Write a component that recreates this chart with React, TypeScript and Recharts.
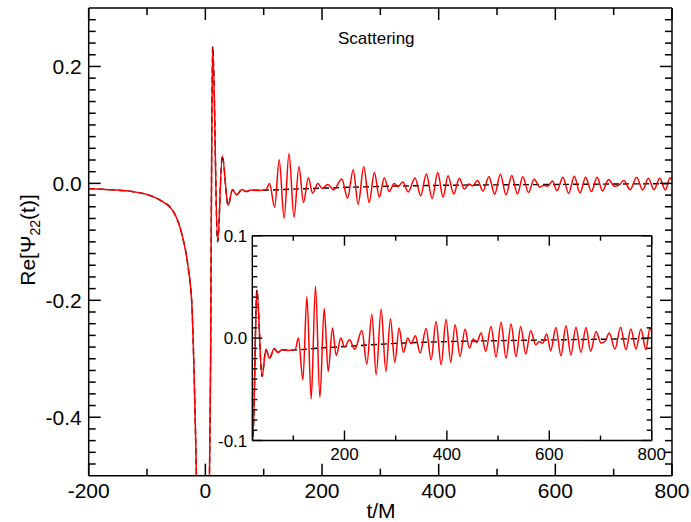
import React from 'react';
import { LineChart, Line, XAxis, YAxis, CartesianGrid } from 'recharts';

// numerical waveform (red)
const tRed = [
  -200, -160, -123, -100, -77, -55, -40, -30, -23, -20, -17, -15, -10, -4, 2, 7, 9, 10, 11, 12.6,
  21, 29, 39, 46.6, 53.6, 62.8, 70, 78, 90, 104, 110, 118.8, 126.6, 135, 143.4, 152, 160.4, 168.2,
  176.6, 183.8, 193, 200, 209.8, 220, 234, 243.7, 253.5, 261.9, 271.6, 280.8, 289.8, 298.3, 306.7,
  315.1, 323.7, 330.1, 338.5, 347.7, 359.4, 369.2, 378.9, 388.7, 398.4, 407.5, 416, 425.8, 435.5,
  443.9, 451.7, 458.3, 466.7, 475.9, 486.2, 496, 505.8, 515.5, 525.3, 535, 544.2, 554, 563.7, 573.5,
  580.5, 587, 595, 602.7, 613, 622.8, 632.5, 642.3, 652, 661.8, 671.6, 680.8, 691.2, 701, 709, 717.2,
  728.3, 739.3, 749.7, 759.4, 769.2, 779, 788.7, 796.5, 800,
];
const psiRed = [
  -0.009, -0.011, -0.0144, -0.019, -0.029, -0.048, -0.088, -0.14, -0.21, -0.3, -0.42, -0.52, -0.75,
  -0.85, -0.72, -0.5, -0.3, -0.1, 0.08, 0.234,
  -0.1, 0.047, -0.0375, -0.011, -0.0195, -0.0104, -0.014, -0.0114, -0.012, -0.011, 0.0, -0.0407,
  0.0406, -0.0595, 0.051, -0.058, 0.029, -0.0326, 0.0098, -0.017, 0.0, -0.0088, -0.0017, -0.011,
  0.0074, -0.0254, 0.0234, -0.0358, 0.0283, -0.0326, 0.0188, -0.0238, 0.0098, -0.014, 0.0, -0.0056,
  0.0022, -0.0146, 0.0094, -0.0212, 0.0162, -0.026, 0.0185, -0.0238, 0.013, -0.018, 0.009, -0.0098,
  -0.001, -0.0043, 0.0049, -0.013, 0.0113, -0.0185, 0.0156, -0.0195, 0.0137, -0.018, 0.0113, -0.0156,
  0.0071, -0.0065, -0.0033, -0.005, 0.0039, -0.0124, 0.0103, -0.0173, 0.012, -0.0163, 0.0107, -0.014,
  0.0103, -0.013, 0.0065, -0.0049, -0.003, 0.0049, -0.0107, 0.0107, -0.0114, 0.0088, -0.0107, 0.0088,
  -0.0114, 0.0098, 0.006,
];

// comparison waveform (black dashed)
const tDash = [
  -200, -160, -123, -100, -77, -55, -40, -30, -23, -20, -17, -15, -10, -4, 2, 7, 9, 10, 11, 12.6,
  21, 29, 39, 46.6, 53.6, 62.8, 70, 78, 90, 150, 200, 300, 400, 500, 600, 700, 800,
];
const psiDash = [
  -0.009, -0.011, -0.0144, -0.019, -0.029, -0.048, -0.088, -0.14, -0.21, -0.3, -0.42, -0.52, -0.75,
  -0.85, -0.72, -0.5, -0.3, -0.1, 0.08, 0.234,
  -0.1, 0.047, -0.0375, -0.011, -0.0195, -0.0104, -0.014, -0.0114, -0.0118, -0.0098, -0.0082,
  -0.0052, -0.0034, -0.0025, -0.0018, -0.0011, -0.0004,
];

const mainXTicks = [-200, 0, 200, 400, 600, 800];
const mainXMinor = [-100, 100, 300, 500, 700];
const mainYTicks = [-0.4, -0.2, 0.0, 0.2];
const mainYMinor = [
  -0.48, -0.46, -0.44, -0.42, -0.38, -0.36, -0.34, -0.32, -0.3, -0.28, -0.26, -0.24, -0.22, -0.18,
  -0.16, -0.14, -0.12, -0.1, -0.08, -0.06, -0.04, -0.02, 0.02, 0.04, 0.06, 0.08, 0.1, 0.12, 0.14,
  0.16, 0.18, 0.22, 0.24, 0.26, 0.28,
];
const insetXTicks = [200, 400, 600, 800];
const insetXMinor = [100, 300, 500, 700];
const insetYTicks = [-0.1, 0.0, 0.1];
const insetYMinor = [
  -0.09, -0.08, -0.07, -0.06, -0.05, -0.04, -0.03, -0.02, -0.01, 0.01, 0.02, 0.03, 0.04, 0.05, 0.06,
  0.07, 0.08, 0.09,
];

const redData = tRed.map((t, i) => ({ t, v: psiRed[i] }));
const dashData = tDash.map((t, i) => ({ t, v: psiDash[i] }));

const font = 'Liberation Sans, Arial, Helvetica, sans-serif';
const blank = () => '';
const fmtY = (v: number) => v.toFixed(1);
const fmtX = (v: number) => String(v);
const THIN = 0.001; // axes need a non-zero box to render; keep stacked axes on one line

interface FrameOpts {
  xd: [number, number];
  yd: [number, number];
  xt: number[];
  xm: number[];
  yt: number[];
  ym: number[];
  major: number;
  minor: number;
  fs: number;
  gapX: number;
  gapY: number;
  sw: number;
}

// four sides of labelled + minor ticks, all pointing inward
function frame(o: FrameOpts) {
  const line = { stroke: '#000', strokeWidth: o.sw };
  const lbl = { fill: '#000', fontSize: o.fs, fontFamily: font };
  const common = { type: 'number' as const, allowDataOverflow: true, interval: 0 as const, stroke: '#000' };
  const out: React.ReactElement[] = [];
  const sides: Array<['bottom' | 'top', string]> = [['bottom', 'xb'], ['top', 'xt']];
  sides.forEach(([side, id]) => {
    out.push(
      <XAxis key={id} xAxisId={id} dataKey="t" orientation={side} domain={o.xd} ticks={o.xt} height={THIN}
        tickSize={-o.major} tickMargin={o.major + o.gapX} tickFormatter={side === 'bottom' ? fmtX : blank}
        axisLine={line} tickLine={line} tick={lbl} {...common} />,
      <XAxis key={id + 'm'} xAxisId={id + 'm'} dataKey="t" orientation={side} domain={o.xd} ticks={o.xm}
        height={THIN} tickSize={-o.minor} tickMargin={0} tickFormatter={blank} axisLine={false}
        tickLine={line} tick={lbl} {...common} />,
    );
  });
  const ysides: Array<['left' | 'right', string]> = [['left', 'yl'], ['right', 'yr']];
  ysides.forEach(([side, id]) => {
    out.push(
      <YAxis key={id} yAxisId={id} orientation={side} domain={o.yd} ticks={o.yt} width={THIN}
        tickSize={-o.major} tickMargin={o.major + o.gapY} tickFormatter={side === 'left' ? fmtY : blank}
        axisLine={line} tickLine={line} tick={lbl} {...common} />,
      <YAxis key={id + 'm'} yAxisId={id + 'm'} orientation={side} domain={o.yd} ticks={o.ym} width={THIN}
        tickSize={-o.minor} tickMargin={0} tickFormatter={blank} axisLine={false}
        tickLine={line} tick={lbl} {...common} />,
    );
  });
  return out;
}

function curves() {
  return [
    <Line key="dash" xAxisId="xb" yAxisId="yl" data={dashData} dataKey="v" type="monotone" stroke="#000"
      strokeWidth={1.4} strokeDasharray="6 4" dot={false} activeDot={false} isAnimationActive={false} />,
    <Line key="red" xAxisId="xb" yAxisId="yl" data={redData} dataKey="v" type="monotone" stroke="#ff0000"
      strokeWidth={1.5} dot={false} activeDot={false} isAnimationActive={false} />,
  ];
}

export default function App() {
  return (
    <div style={{ position: 'absolute', left: 0, top: 0, width: 691, height: 522, background: '#fff', fontFamily: font }}>
      <div style={{ position: 'absolute', left: 0, top: 0 }}>
        <LineChart width={691} height={522} margin={{ top: 8, right: 19, bottom: 46.3, left: 88.7 }}>
          {frame({
            xd: [-200, 800], yd: [-0.5, 0.3], xt: mainXTicks, xm: mainXMinor, yt: mainYTicks, ym: mainYMinor,
            major: 12, minor: 7, fs: 21, gapX: 7, gapY: 7, sw: 1.5,
          })}
          {curves()}
        </LineChart>
      </div>
      <div style={{ position: 'absolute', left: 210, top: 225 }}>
        <LineChart width={481} height={245} margin={{ top: 10.7, right: 39.3, bottom: 29.5, left: 42.3 }}>
          <CartesianGrid xAxisId="xb" yAxisId="yl" horizontal={false} vertical={false} fill="#fff" />
          {frame({
            xd: [20, 800], yd: [-0.1, 0.1], xt: insetXTicks, xm: insetXMinor, yt: insetYTicks, ym: insetYMinor,
            major: 10, minor: 5, fs: 17, gapX: 7, gapY: 5, sw: 1.4,
          })}
          {curves()}
        </LineChart>
      </div>
      <svg width={691} height={522} style={{ position: 'absolute', left: 0, top: 0, pointerEvents: 'none' }}>
        <text x={338} y={44} fontSize={17} fontFamily={font} fill="#000">Scattering</text>
        <text x={381} y={518} fontSize={21} fontFamily={font} fill="#000" textAnchor="middle">t/M</text>
        <text transform="translate(35,240) rotate(-90)" fontSize={21} fontFamily={font} fill="#000" textAnchor="middle">
          Re[Ψ<tspan fontSize={14} dy={5}>22</tspan><tspan dy={-5}>(t)]</tspan>
        </text>
      </svg>
    </div>
  );
}
